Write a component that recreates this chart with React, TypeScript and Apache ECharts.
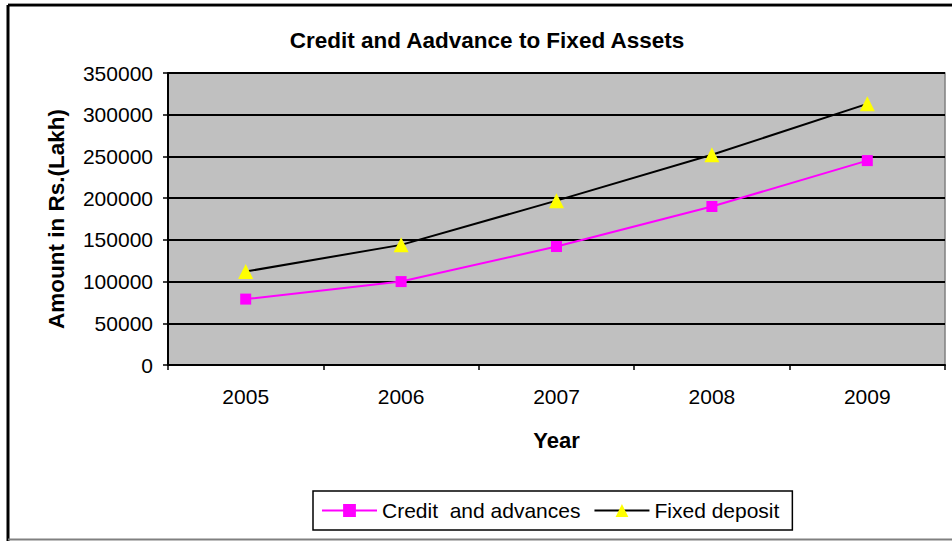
import React, { useEffect, useRef } from "react";
import * as echarts from "echarts";

const years = ["2005", "2006", "2007", "2008", "2009"];
const creditAdvances = [79000, 100000, 142000, 190000, 245000];
const fixedDeposit = [112000, 144000, 197000, 252000, 313000];
const FONT = "'Liberation Sans', Arial, sans-serif";

export default function App() {
  const ref = useRef<HTMLDivElement>(null);
  useEffect(() => {
    if (!ref.current) return;
    const chart = echarts.init(ref.current, null, { renderer: "svg" });
    chart.setOption({
      animation: false,
      backgroundColor: "#ffffff",
      textStyle: { fontFamily: FONT },
      title: {
        text: "Credit and Aadvance to Fixed Assets",
        left: 482,
        top: 24,
        textAlign: "center",
        textStyle: { fontFamily: FONT, fontSize: 22.5, fontWeight: "bold", color: "#000" },
      },
      graphic: [
        { type: "line", shape: { x1: 8, y1: 5, x2: 952, y2: 5 }, style: { stroke: "#000", lineWidth: 3 } },
        { type: "line", shape: { x1: 8, y1: 3.5, x2: 952, y2: 3.5 }, style: { stroke: "#999", lineWidth: 1 } },
        { type: "line", shape: { x1: 8, y1: 5, x2: 8, y2: 541 }, style: { stroke: "#000", lineWidth: 3 } },
        { type: "line", shape: { x1: 8, y1: 539.5, x2: 952, y2: 539.5 }, style: { stroke: "#808080", lineWidth: 2 } },
      ],
      legend: {
        left: 313,
        top: 491,
        itemWidth: 55,
        itemHeight: 16,
        itemGap: 13,
        padding: [9, 13, 9, 8],
        borderColor: "#000",
        borderWidth: 1.5,
        textStyle: { fontFamily: FONT, fontSize: 21, color: "#000" },
        data: ["Credit  and advances", "Fixed deposit"],
      },
      grid: {
        left: 168,
        top: 73,
        right: 7,
        bottom: 176,
        show: true,
        backgroundColor: "#c0c0c0",
        borderColor: "#808080",
        borderWidth: 1.5,
      },
      xAxis: {
        type: "category",
        data: years,
        boundaryGap: true,
        name: "Year",
        nameLocation: "middle",
        nameGap: 64,
        nameTextStyle: { fontFamily: FONT, fontSize: 22, fontWeight: "bold", color: "#000" },
        axisLine: { lineStyle: { color: "#000", width: 2 } },
        axisTick: { show: true, length: 5, lineStyle: { color: "#000", width: 1.5 } },
        axisLabel: { fontFamily: FONT, fontSize: 21, color: "#000", margin: 21 },
        splitLine: { show: false },
      },
      yAxis: {
        type: "value",
        min: 0,
        max: 350000,
        interval: 50000,
        name: "Amount in Rs.(Lakh)",
        nameLocation: "middle",
        nameGap: 100,
        nameTextStyle: { fontFamily: FONT, fontSize: 22.5, fontWeight: "bold", color: "#000" },
        axisLine: { show: true, lineStyle: { color: "#000", width: 2 } },
        axisTick: { show: true, length: 5, lineStyle: { color: "#000", width: 1.5 } },
        axisLabel: {
          fontFamily: FONT,
          fontSize: 21,
          color: "#000",
          margin: 15,
          formatter: (v: number) => String(v),
        },
        splitLine: { show: true, lineStyle: { color: "#000", width: 2 } },
      },
      series: [
        {
          name: "Credit  and advances",
          type: "line",
          data: creditAdvances,
          symbol: "rect",
          symbolSize: 11,
          lineStyle: { color: "#ff00ff", width: 2 },
          itemStyle: { color: "#ff00ff" },
        },
        {
          name: "Fixed deposit",
          type: "line",
          data: fixedDeposit,
          symbol: "triangle",
          symbolSize: 15,
          lineStyle: { color: "#000000", width: 2 },
          itemStyle: { color: "#ffff00" },
        },
      ],
    });
    return () => chart.dispose();
  }, []);
  return <div ref={ref} style={{ width: 952, height: 541, position: "absolute", left: 0, top: 0 }} />;
}
